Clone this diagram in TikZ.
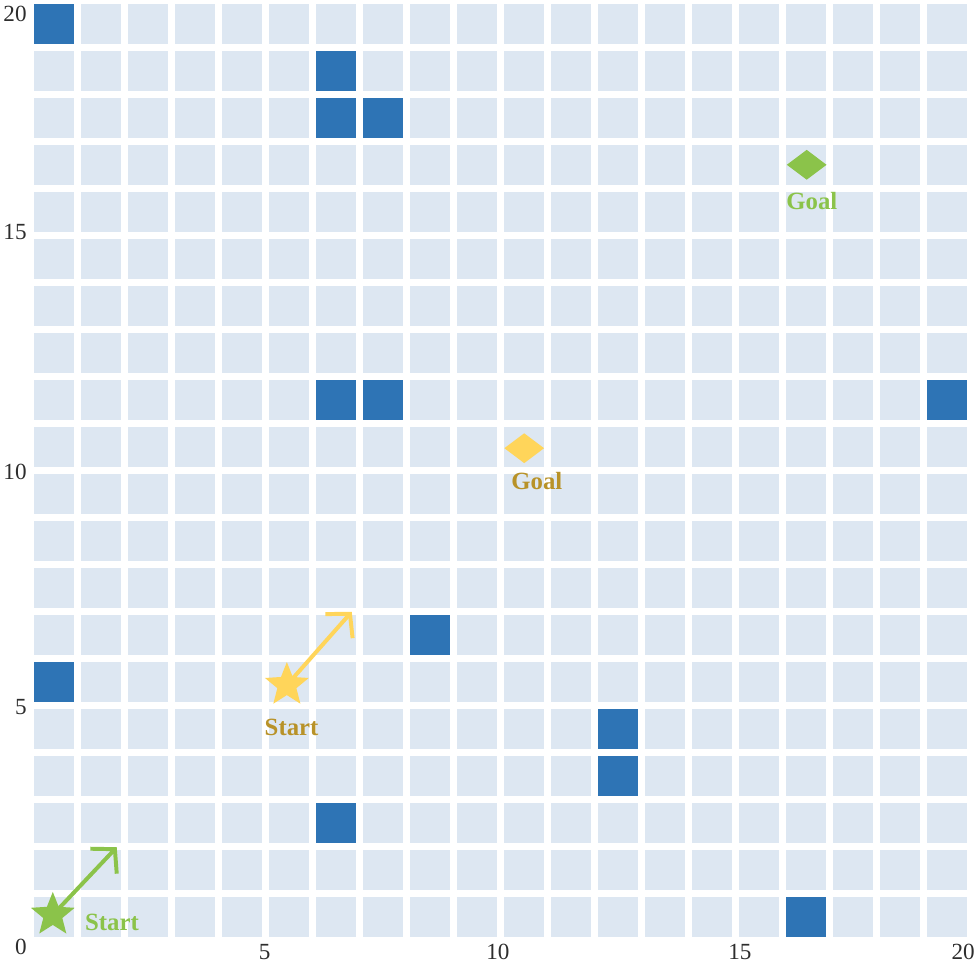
\documentclass[tikz,border=0pt]{standalone}
\usepackage{fontspec}
\setmainfont{Liberation Serif}
\usetikzlibrary{shapes.geometric,arrows.meta}
\definecolor{cellbg}{RGB}{221,231,242}
\definecolor{obst}{RGB}{46,116,181}
\definecolor{grn}{RGB}{139,195,74}
\definecolor{ylw}{RGB}{255,213,90}
\definecolor{ylwtxt}{RGB}{184,146,40}
\definecolor{axtxt}{RGB}{45,45,45}
\begin{document}
\begin{tikzpicture}[x=1cm,y=1cm,
  cellbox/.style={minimum width=0.851cm, minimum height=0.851cm, inner sep=0pt, outer sep=0pt, anchor=south west, fill=cellbg},
  obstbox/.style={cellbox, fill=obst},
  axlabel/.style={text=axtxt, font=\fontsize{14}{16}\selectfont, inner sep=0pt},
  mklabel/.style={font=\bfseries\fontsize{15}{18}\selectfont, inner sep=0pt},
  startstar/.style={star, star points=5, star point ratio=2.3, minimum size=0.98cm, inner sep=0pt},
  goaldia/.style={diamond, minimum width=0.85cm, minimum height=0.64cm, inner sep=0pt},
  dirarrow/.style={line width=2.4pt, -{Straight Barb[length=10pt, width=22pt, line width=2.4pt]}}
]
\useasboundingbox (-0.7234,-0.5957) rectangle (20.1277,19.9362);
% grid cells
\foreach \i in {0,...,19}{
  \foreach \j in {0,...,19}{
    \node[cellbox] (c-\i-\j) at (\i,\j) {};
  }
}
% obstacles
\foreach \i/\j in {0/19,6/18,6/17,7/17,6/11,7/11,19/11,8/6,0/5,12/4,12/3,6/2,16/0}{
  \node[obstbox] (o-\i-\j) at (\i,\j) {};
}
% axis labels
\node[axlabel] (x5) at (4.91,-0.32) {5};
\node[axlabel] (x10) at (9.87,-0.32) {10};
\node[axlabel] (x15) at (15.02,-0.32) {15};
\node[axlabel] (x20) at (19.77,-0.32) {20};
\node[axlabel, anchor=east] (y0) at (-0.15,-0.21) {0};
\node[axlabel, anchor=east] (y5) at (-0.15,4.89) {5};
\node[axlabel, anchor=east] (y10) at (-0.15,9.89) {10};
\node[axlabel, anchor=east] (y15) at (-0.15,15.0) {15};
\node[axlabel, anchor=east] (y20) at (-0.15,19.64) {20};
% green start / goal
\coordinate (gtip) at (1.76,1.91);
\node[startstar, fill=grn] (gstar) at (0.40,0.47) {};
\draw[dirarrow, grn] (gstar.center) -- (gtip);
\node[mklabel, text=grn] (gstartlbl) at (1.66,0.32) {Start};
\node[goaldia, fill=grn] (ggoal) at (16.44,16.43) {};
\node[mklabel, text=grn] (ggoallbl) at (16.55,15.66) {Goal};
% yellow start / goal
\coordinate (ytip) at (6.76,6.92);
\node[startstar, fill=ylw] (ystar) at (5.38,5.36) {};
\draw[dirarrow, ylw] (ystar.center) -- (ytip);
\node[mklabel, text=ylwtxt] (ystartlbl) at (5.48,4.45) {Start};
\node[goaldia, fill=ylw] (ygoal) at (10.43,10.40) {};
\node[mklabel, text=ylwtxt] (ygoallbl) at (10.70,9.70) {Goal};
\end{tikzpicture}
\end{document}
